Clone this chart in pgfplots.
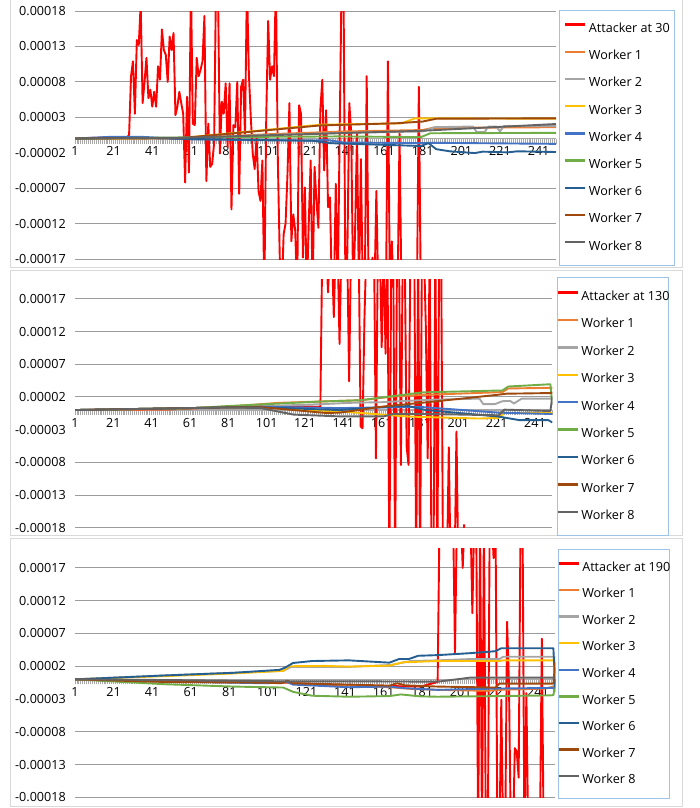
\documentclass[border=0pt]{standalone}
\usepackage{pgfplots}
\pgfplotsset{compat=1.18}
\usepackage{fontspec}
\setmainfont{Open Sans}

\definecolor{attred}{HTML}{FF0000}
\definecolor{wone}{HTML}{ED7D31}
\definecolor{wtwo}{HTML}{A5A5A5}
\definecolor{wthree}{HTML}{FFC000}
\definecolor{wfour}{HTML}{4472C4}
\definecolor{wfive}{HTML}{70AD47}
\definecolor{wsix}{HTML}{255E91}
\definecolor{wseven}{HTML}{9E480E}
\definecolor{weight}{HTML}{636363}
\definecolor{gridgray}{HTML}{9C9C9C}
\definecolor{axisgray}{HTML}{A8A8A8}
\definecolor{legendblue}{HTML}{9DC3E6}
\definecolor{framegray}{HTML}{D9D9D9}

\newcommand\chartfont{\fontsize{12.6pt}{15pt}\selectfont}

% values are in units of 1e-5
\pgfplotsset{
  panel/.style={
    scale only axis,
    xmin=1, xmax=250,
    axis x line*=middle,
    axis y line*=left,
    hide obscured x ticks=false,
    y axis line style={draw=none},
    x axis line style={draw=axisgray, line width=1.3pt},
    xtick={1,21,41,61,81,101,121,141,161,181,201,221,241},
    xticklabels={1,21,41,61,81,101,121,141,161,181,201,221,241},
    minor xtick={1,2,...,250},
    xtick align=outside,
    every tick/.style={draw=axisgray, line width=0.8pt},
    major tick length=5pt, minor tick length=5pt,
    ytick style={draw=none},
    ymajorgrids,
    major grid style={draw=gridgray, line width=1pt},
    tick label style={font=\chartfont},
    xticklabel style={anchor=north, inner sep=0pt, yshift=-3pt},
    yticklabel style={anchor=east, inner sep=0pt, xshift=-9pt},
    extra y tick style={grid=none},
    legend cell align=left,
    legend image code/.code={\draw[##1, line width=2.4pt] (0pt,4.5pt) -- (20pt,4.5pt);},
    legend style={font=\chartfont, draw=legendblue, line width=1pt,
      at={(1,1)}, anchor=north west,
      nodes={inner sep=0pt, text height=9.5pt, text depth=3pt},
      /tikz/every odd column/.append style={column sep=2.5pt}},
    every axis plot/.append style={line width=1.9pt, line join=round, mark=none},
  },
  lowerticks/.style={
    ymin=-18, ymax=20,
    ytick={-18,-13,-8,2,7,12,17},
    yticklabels={-0.00018,-0.00013,-0.00008,0.00002,0.00007,0.00012,0.00017},
    extra y ticks={-3}, extra y tick labels={-0.00003},
  },
}

\begin{document}
\begin{tikzpicture}
\useasboundingbox (0pt,-808pt) rectangle (699pt,0pt);
\draw[framegray, line width=1pt] (10pt,-267pt) rectangle (682pt,3pt);
\draw[framegray, line width=1pt] (10pt,-535pt) rectangle (682pt,-270pt);
\draw[framegray, line width=1pt] (10pt,-806.5pt) rectangle (682pt,-538pt);

% ---------------- attacker joins at 30 ----------------
\begin{axis}[panel,
  at={(75pt,-259pt)}, anchor=south west, width=481pt, height=248pt,
  ymin=-17, ymax=18,
  ytick={-17,-12,-7,3,8,13,18},
  yticklabels={-0.00017,-0.00012,-0.00007,0.00003,0.00008,0.00013,0.00018},
  extra y ticks={-2}, extra y tick labels={-0.00002},
  legend style={xshift=3pt, yshift=1pt, inner xsep=4.5pt, inner ysep=12.4pt, row sep=14.7pt},
]
\addplot[attred] coordinates {(1,0) (10,0.1) (20,0.15) (28,0.2) (29,0.5) (30,8.8) (31,10.9) (32,3.5) (33,13.9) (34,13.2) (35,19) (36,5) (37,8) (38,11.4) (39,5.7) (40,6.9) (41,4.5) (42,6.6) (43,4.5) (44,10.2) (45,8.3) (46,15.4) (47,12.5) (48,11.8) (49,8) (50,14.4) (51,12.5) (52,14.9) (53,3.3) (54,4.5) (55,6.6) (56,5) (57,3.5) (58,-6.2) (59,5.9) (60,-4.8) (61,22) (62,2.1) (63,1.9) (64,11.4) (65,8.8) (66,9.7) (67,10.9) (68,17.3) (69,-6) (70,2.1) (71,-4) (72,-3.6) (73,-0.7) (74,22) (75,22) (76,-2.1) (77,5.2) (78,3.5) (79,7.8) (80,-1.2) (81,7.8) (82,-10) (83,1.9) (84,1.6) (85,8) (86,-7.8) (87,7.3) (88,8.3) (89,0.7) (90,22) (91,9.2) (92,3) (93,-2.1) (94,-4.3) (95,0.2) (96,-7.4) (97,-8.8) (98,-3.1) (99,-22) (100,3) (101,16.6) (102,8.3) (103,10.2) (104,8.8) (105,22) (106,-3) (107,-16.8) (108,-22) (109,-13.5) (110,-12) (111,-5) (112,5) (113,-14.5) (114,-10.7) (115,-13) (116,-22) (117,4.7) (118,3.5) (119,-16.8) (120,-6.9) (121,-22) (122,-12) (123,-3.1) (124,-22) (125,-4) (126,-8.8) (127,-12.6) (128,4) (129,8.3) (130,-4.5) (131,4) (132,-9.7) (133,-8.3) (134,-22) (135,-22) (136,-6.4) (137,-22) (138,0.7) (139,22) (140,22) (141,-22) (142,-16) (143,5) (144,0.7) (145,-22) (146,-13) (147,0.9) (148,-22) (149,-2.9) (150,-22) (151,-22) (152,8.8) (153,-22) (154,-22) (155,-16.8) (156,-22) (157,-7.4) (158,-22) (159,-22) (160,-22) (161,-22) (162,-22) (163,10.9) (164,-22) (165,-14.5) (166,-22) (167,-22) (168,-22) (169,0.8) (170,-22) (171,-22) (172,-22) (173,-22) (174,-22) (175,-22) (176,-22) (177,-22) (178,-22) (179,7.3) (180,-22)};
\addlegendentry{Attacker at 30}
\addplot[wone] coordinates {(1,0) (55,0) (100,0.6) (140,1.0) (181,1.2) (186,1.5) (250,1.6)};
\addlegendentry{Worker 1}
\addplot[wtwo] coordinates {(1,0) (55,0) (100,0.5) (140,0.8) (181,1.0) (187,1.6) (207,1.7) (209,0.9) (213,0.9) (215,1.7) (219,1.7) (221,1.0) (223,1.75) (250,1.75)};
\addlegendentry{Worker 2}
\addplot[wthree] coordinates {(1,0) (55,0.05) (128,1.95) (170,2.15) (177,2.85) (190,2.85) (250,2.8)};
\addlegendentry{Worker 3}
\addplot[wfour] coordinates {(1,0) (20,0.25) (35,0.25) (60,-0.1) (100,-0.25) (125,-0.3) (130,-0.15) (140,-0.55) (181,-0.65) (185,-0.6) (250,-0.75)};
\addlegendentry{Worker 4}
\addplot[wfive] coordinates {(1,0) (70,0.2) (138,0.3) (180,0.2) (185,0.75) (250,0.8)};
\addlegendentry{Worker 5}
\addplot[wsix] coordinates {(1,0) (30,0.1) (70,-0.1) (124,-0.3) (133,-0.65) (180,-1.05) (184,-0.65) (188,-1.5) (195,-1.8) (208,-2.05) (212,-1.85) (225,-1.95) (230,-1.8) (250,-1.9)};
\addlegendentry{Worker 6}
\addplot[wseven] coordinates {(1,0) (55,0.05) (128,1.85) (167,2.15) (181,2.4) (188,2.8) (250,2.85)};
\addlegendentry{Worker 7}
\addplot[weight] coordinates {(1,0) (55,0.1) (181,1.1) (250,2.05)};
\addlegendentry{Worker 8}
\end{axis}

% ---------------- attacker joins at 130 ----------------
\begin{axis}[panel, lowerticks,
  at={(75pt,-527.7pt)}, anchor=south west, width=477.3pt, height=248.4pt,
  legend style={xshift=4.7pt, yshift=2pt, inner xsep=-1pt, inner ysep=13.1pt, row sep=14.9pt},
]
\addplot[attred] coordinates {(1,0) (50,0.1) (80,0.5) (100,0.6) (129,0.5) (130,25) (131,25) (132,25) (133,18) (134,25) (135,25) (136,14.2) (137,25) (138,25) (139,10.1) (140,25) (141,25) (142,25) (143,25) (144,4.4) (145,25) (146,25) (147,25) (148,25) (149,25) (150,-2.5) (151,-2.8) (152,14) (153,25) (154,25) (155,25) (156,25) (157,25) (158,-7.4) (159,25) (160,25) (161,9.6) (162,25) (163,8.6) (164,25) (165,-25) (166,25) (167,25) (168,-25) (169,25) (170,25) (171,-8.4) (172,25) (173,25) (174,-5.6) (175,-8.4) (176,25) (177,25) (178,25) (179,-25) (180,25) (181,-25) (182,25) (183,25) (184,13) (185,-7.4) (186,25) (187,-25) (188,-25) (189,25) (190,-25) (191,25) (192,25) (193,-25) (194,-25) (195,-25) (196,-5.7) (197,-25) (198,-25) (199,-25) (200,-3.3) (201,-25) (202,-25) (203,-25) (204,-17.5)};
\addlegendentry{Attacker at 130}
\addplot[wone] coordinates {(1,0) (50,0.1) (80,0.5) (107,1.1) (150,1.5) (168,2.1) (182,2.3) (224,2.75) (227,3.3) (249,3.4) (250,3.4)};
\addlegendentry{Worker 1}
\addplot[wtwo] coordinates {(1,0) (80,0.4) (100,0.6) (130,0.9) (144,1.1) (161,1.2) (184,1.55) (212,1.75) (214,0.9) (220,0.9) (224,1.35) (228,1.4) (230,1.0) (234,1.75) (250,1.75)};
\addlegendentry{Worker 2}
\addplot[wthree] coordinates {(1,0) (80,0.4) (100,0.4) (120,0.0) (139,-0.2) (175,-1.0) (212,-1.3) (222,-1.2) (225,-0.45) (250,-0.45)};
\addlegendentry{Worker 3}
\addplot[wfour] coordinates {(1,0) (80,0.4) (100,0.5) (139,0.3) (174,0.45) (180,0.5) (222,-0.4) (249,-0.6) (250,-0.6)};
\addlegendentry{Worker 4}
\addplot[wfive] coordinates {(1,0) (63,0.3) (80,0.6) (129,1.3) (150,1.5) (166,2.1) (182,2.7) (224,3.0) (227,3.6) (246,3.9) (249,3.95) (250,0.8)};
\addlegendentry{Worker 5}
\addplot[wsix] coordinates {(1,0) (80,0.4) (100,0.4) (139,0.0) (167,0.55) (175,0.6) (184,0.0) (222,-1.0) (233,-1.55) (248,-1.55) (250,-1.9)};
\addlegendentry{Worker 6}
\addplot[wseven] coordinates {(1,0) (80,0.4) (100,0.4) (132,-0.45) (139,-0.4) (162,0.55) (185,1.2) (222,2.35) (226,2.5) (249,2.6) (250,2.7)};
\addlegendentry{Worker 7}
\addplot[weight] coordinates {(1,0) (80,0.4) (98,0.3) (115,-0.7) (139,-0.97) (162,-0.97) (167,-0.6) (184,-0.6) (222,-0.8) (225,0.06) (249,-0.15) (250,2.1)};
\addlegendentry{Worker 8}
\end{axis}

% ---------------- attacker joins at 190 ----------------
\begin{axis}[panel, lowerticks,
  at={(75pt,-797.3pt)}, anchor=south west, width=480.3pt, height=249pt,
  legend style={xshift=2.6pt, yshift=-0.9pt, inner xsep=-1pt, inner ysep=11.9pt, row sep=14.1pt},
]
\addplot[attred] coordinates {(1,0) (30,-0.2) (60,-0.3) (110,-0.5) (130,-0.8) (160,-1.0) (180,-1.1) (189,-0.4) (190,25) (191,25) (192,25) (193,25) (194,25) (195,25) (196,25) (197,25) (198,4.1) (199,25) (200,25) (201,25) (202,17) (203,25) (204,25) (205,25) (206,25) (207,10.1) (208,25) (209,25) (210,-25) (211,25) (212,-25) (213,25) (214,-25) (215,-25) (216,25) (217,25) (218,18.5) (219,25) (220,-25) (221,-25) (222,-3.1) (223,-25) (224,-25) (225,8.8) (226,-1) (227,-25) (228,-25) (229,-10.5) (230,-11) (231,-15) (232,25) (233,25) (234,-25) (235,-2.1) (236,-25) (237,-25) (238,-25) (239,-25) (240,-25) (241,-25) (242,-25) (243,6.2) (244,-25)};
\addlegendentry{Attacker at 190}
\addplot[wone] coordinates {(1,0) (48,-0.3) (100,-0.4) (143,-0.9) (164,-1.2) (175,-1.45) (189,-1.6) (215,-1.75) (221,-1.6) (245,-1.4) (249,-1.1) (250,-0.7)};
\addlegendentry{Worker 1}
\addplot[wtwo] coordinates {(1,0) (48,0.6) (83,1.0) (109,1.3) (113,1.9) (143,1.9) (165,2.2) (175,2.8) (189,2.9) (206,3.1) (221,3.1) (223,3.45) (249,3.45) (250,3.45)};
\addlegendentry{Worker 2}
\addplot[wthree] coordinates {(1,0) (48,0.5) (83,0.9) (109,1.3) (112,2.0) (130,2.05) (143,1.95) (164,2.1) (171,2.6) (189,2.8) (221,2.8) (223,2.9) (250,2.9)};
\addlegendentry{Worker 3}
\addplot[wfour] coordinates {(1,0) (48,-0.3) (100,-0.6) (111,-0.4) (114,-0.8) (143,-1.2) (164,-1.1) (172,-1.35) (189,-1.6) (221,-1.4) (249,-1.3) (250,-1.9)};
\addlegendentry{Worker 4}
\addplot[wfive] coordinates {(1,0) (48,-0.75) (83,-1.1) (109,-1.25) (114,-1.9) (124,-2.5) (143,-2.65) (164,-2.55) (170,-2.3) (180,-2.6) (189,-2.65) (221,-2.55) (247,-2.45) (249,-2.4) (250,-0.9)};
\addlegendentry{Worker 5}
\addplot[wsix] coordinates {(1,0) (48,0.6) (83,1.0) (107,1.45) (110,1.8) (114,2.5) (124,2.8) (143,2.9) (164,2.55) (169,3.1) (174,3.1) (179,3.6) (189,3.7) (206,4.0) (219,4.3) (222,4.75) (249,4.75) (250,-1.4)};
\addlegendentry{Worker 6}
\addplot[wseven] coordinates {(1,0) (48,-0.4) (100,-0.5) (108,-0.6) (111,-0.2) (114,-0.6) (143,-0.8) (164,-0.95) (168,-0.6) (172,-0.9) (189,-1.1) (219,-1.25) (221,-0.65) (249,-0.65) (250,2.7)};
\addlegendentry{Worker 7}
\addplot[weight] coordinates {(1,0) (48,-0.1) (110,-0.3) (143,-0.3) (189,-0.35) (196,-0.1) (206,0.27) (249,0.27) (250,0.3)};
\addlegendentry{Worker 8}
\end{axis}
\end{tikzpicture}
\end{document}
